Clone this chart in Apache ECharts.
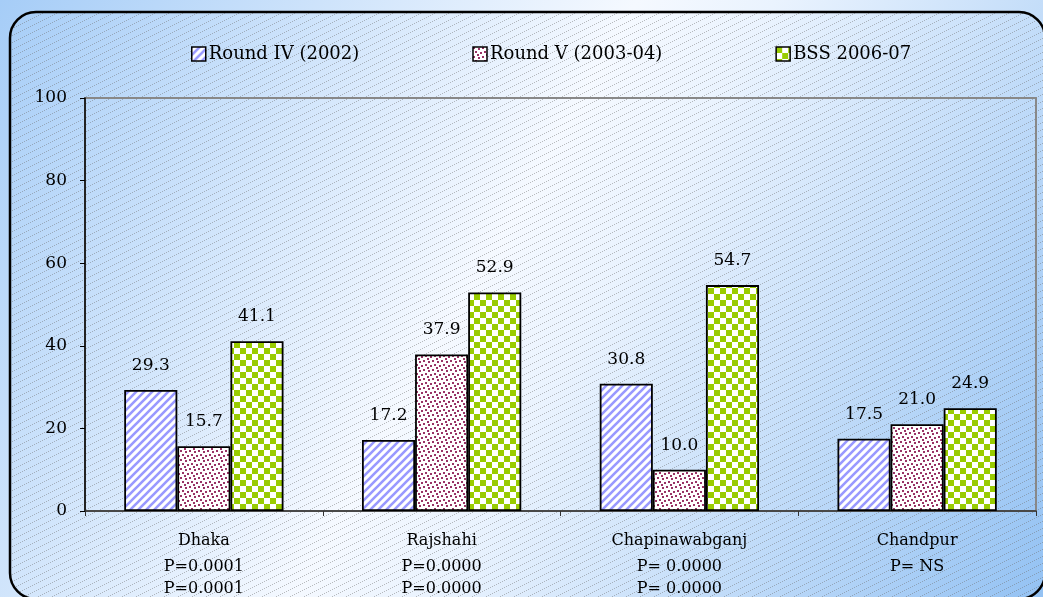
<!DOCTYPE html>
<html>
<head>
<meta charset="utf-8" />
<title>Round IV / Round V / BSS 2006-07</title>
<script src="https://cdn.jsdelivr.net/npm/echarts@6/dist/echarts.min.js"></script>
<style>
  html, body { margin: 0; padding: 0; background: #fff; }
  #myChart { width: 1043px; height: 597px; }
</style>
</head>
<body>
<div id="myChart"></div>
<script type="text/javascript">
// data
var categories = ['Dhaka', 'Rajshahi', 'Chapinawabganj', 'Chandpur'];
var pLine1 = ['P=0.0001', 'P=0.0000', 'P= 0.0000', 'P= NS'];
var pLine2 = ['P=0.0001', 'P=0.0000', 'P= 0.0000', ''];
var seriesNames = ['Round IV (2002)', 'Round V (2003-04)', 'BSS 2006-07'];
var round4 = [29.3, 17.2, 30.8, 17.5];
var round5 = [15.7, 37.9, 10.0, 21.0];
var bss = [41.1, 52.9, 54.7, 24.9];
var yTicks = [0, 20, 40, 60, 80, 100];

var FONT = 'DejaVu Serif';

// fill patterns
function tile(w, h, draw) {
    var c = document.createElement('canvas');
    c.width = w; c.height = h;
    var ctx = c.getContext('2d');
    ctx.fillStyle = '#fff';
    ctx.fillRect(0, 0, w, h);
    draw(ctx);
    return { image: c, repeat: 'repeat' };
}
var stripes = tile(8, 8, function (ctx) {
    ctx.strokeStyle = '#9999ff';
    ctx.lineWidth = 2.6;
    ctx.beginPath();
    ctx.moveTo(-2, 10); ctx.lineTo(10, -2);
    ctx.moveTo(-2, 2); ctx.lineTo(2, -2);
    ctx.moveTo(6, 10); ctx.lineTo(10, 6);
    ctx.stroke();
});
var dots = tile(9, 9, function (ctx) {
    ctx.fillStyle = '#993366';
    ctx.fillRect(0, 0, 2, 2);
    ctx.fillRect(5, 1, 2, 2);
    ctx.fillRect(2, 4, 2, 2);
    ctx.fillRect(7, 5, 2, 2);
    ctx.fillRect(4, 7, 2, 2);
});
var checks = tile(12, 12, function (ctx) {
    ctx.fillStyle = '#99cc00';
    ctx.fillRect(0, 0, 6, 6);
    ctx.fillRect(6, 6, 6, 6);
});
// thin dotted diagonal hatching over the whole frame
var hatch = (function () {
    var c = document.createElement('canvas');
    c.width = 14; c.height = 7;
    var ctx = c.getContext('2d');
    ctx.fillStyle = 'rgba(110,110,110,0.45)';
    for (var x = 0; x < 14; x += 2) {
        ctx.fillRect(x, Math.floor(6.5 - x / 2), 1, 1);
    }
    return { image: c, repeat: 'repeat' };
})();

function barSeries(name, data, fill) {
    return {
        name: name,
        type: 'bar',
        data: data,
        barGap: '0%',
        barCategoryGap: '33%',
        itemStyle: { color: fill, borderColor: '#000', borderWidth: 1.8 },
        label: {
            show: true,
            position: 'top',
            distance: 16,
            color: '#000',
            fontFamily: FONT,
            fontSize: 17,
            formatter: function (p) { return p.value.toFixed(1); }
        }
    };
}

var option = {
    animation: false,
    backgroundColor: {
        type: 'linear', x: 0, y: 0, x2: 1, y2: 1,
        colorStops: [
            { offset: 0, color: '#a6cdf7' },
            { offset: 0.46, color: '#f5f9ff' },
            { offset: 0.56, color: '#eaf3fe' },
            { offset: 1, color: '#94c2f3' }
        ]
    },
    graphic: [{
        type: 'rect',
        z: -10,
        silent: true,
        shape: { x: 10, y: 12, width: 1035, height: 587, r: 26 },
        style: { fill: hatch, stroke: '#000', lineWidth: 2.5 }
    }],
    legend: {
        data: seriesNames,
        left: 186,
        top: 40,
        itemWidth: 14,
        itemHeight: 14,
        itemGap: 113,
        icon: 'rect',
        itemStyle: { borderColor: '#000', borderWidth: 1.5 },
        textStyle: { fontFamily: FONT, fontSize: 18, color: '#000', padding: [0, 0, 0, -2] }
    },
    grid: {
        left: 85, right: 7, top: 98, bottom: 86,
        show: true,
        backgroundColor: 'transparent',
        borderColor: '#888',
        borderWidth: 2
    },
    xAxis: {
        type: 'category',
        data: categories,
        axisLine: { lineStyle: { color: '#333', width: 1.5 } },
        axisTick: { show: true, alignWithLabel: false, length: 5, lineStyle: { color: '#333' } },
        axisLabel: {
            margin: 15,
            interval: 0,
            formatter: function (v, i) {
                var s = '{n|' + v + '}\n{p|' + pLine1[i] + '}';
                if (pLine2[i]) s += '\n{p|' + pLine2[i] + '}';
                return s;
            },
            rich: {
                n: { fontFamily: FONT, fontSize: 16, color: '#000', lineHeight: 30 },
                p: { fontFamily: FONT, fontSize: 16, color: '#000', lineHeight: 22 }
            }
        }
    },
    yAxis: {
        type: 'value',
        min: yTicks[0],
        max: yTicks[yTicks.length - 1],
        interval: 20,
        splitLine: { show: false },
        axisLine: { show: true, lineStyle: { color: '#000', width: 1.5 } },
        axisTick: { show: true, length: 5, lineStyle: { color: '#000' } },
        axisLabel: { fontFamily: FONT, fontSize: 17, color: '#000', margin: 18 }
    },
    series: [
        barSeries(seriesNames[0], round4, stripes),
        barSeries(seriesNames[1], round5, dots),
        barSeries(seriesNames[2], bss, checks)
    ]
};

var myChart = echarts.init(document.getElementById('myChart'));
myChart.setOption(option);
</script>
</body>
</html>
